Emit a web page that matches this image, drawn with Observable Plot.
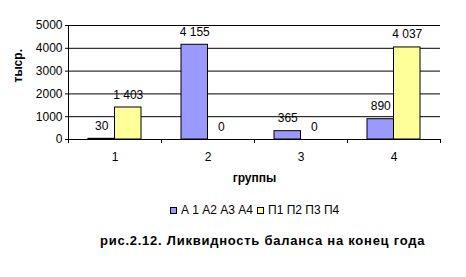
<!DOCTYPE html>
<html>
<head>
<meta charset="utf-8">
<script src="https://cdn.jsdelivr.net/npm/d3@7"></script>
<script src="https://cdn.jsdelivr.net/npm/@observablehq/plot@0.6"></script>
<style>
  html, body { margin: 0; padding: 0; background: #fff; }
  body { width: 466px; height: 277px; position: relative; font-family: "Liberation Sans", Arial, sans-serif; }
  #legend { position: absolute; top: 203px; left: 0; width: 466px; font-size: 12px; color: #000; }
  #legend .item { position: absolute; top: 0; white-space: nowrap; display: flex; align-items: center; }
  #legend .sw { width: 5px; height: 5px; border: 1px solid #000; margin-right: 4px; }
  #caption { position: absolute; top: 233px; left: 100px; font-size: 13px; font-weight: bold; white-space: nowrap; letter-spacing: 0.75px; }
</style>
</head>
<body>
<div id="chart"></div>
<div id="legend"></div>
<div id="caption"></div>
<script>
const groups = [1, 2, 3, 4];
const aValues = [30, 4155, 365, 890];
const pValues = [1403, 0, 0, 4037];
const seriesNames = ["А 1 А2 А3 А4", "П1 П2 П3 П4"];
const seriesColors = ["#9999FF", "#FFFF99"];
const yTicks = [0, 1000, 2000, 3000, 4000, 5000];
const xTitle = "группы";
const yTitle = "тыср.";
const captionText = "рис.2.12. Ликвидность баланса на конец года";

const rows = [];
groups.forEach((g, i) => {
  rows.push({g, s: 0, v: aValues[i]});
  rows.push({g, s: 1, v: pValues[i]});
});
const bw = 0.285;
const ru = d3.formatLocale({decimal: ",", thousands: "\u00a0", grouping: [3]});
const fmt = ru.format(",d");

const boundaries = [0.5, ...groups.map(g => g + 0.5)];

const chart = Plot.plot({
  width: 466,
  height: 192,
  marginTop: 25,
  marginBottom: 53,
  marginLeft: 68,
  marginRight: 26,
  style: {fontFamily: "'Liberation Sans', Arial, sans-serif", fontSize: "11px", color: "#000", background: "#fff"},
  x: {domain: [0.5, 4.5], label: null},
  y: {domain: [0, 5000], label: null},
  marks: [
    Plot.gridY(yTicks, {stroke: "#000", strokeOpacity: 1}),
    Plot.ruleX([0.5], {stroke: "#000"}),
    Plot.rectY(rows.filter(d => d.v > 0), {
      x1: d => d.s === 0 ? d.g - bw : d.g,
      x2: d => d.s === 0 ? d.g : d.g + bw,
      y1: 0,
      y2: "v",
      fill: d => seriesColors[d.s],
      stroke: "#000",
      strokeWidth: 1
    }),
    Plot.text(rows, {
      x: d => d.s === 0 ? d.g - bw / 2 : d.g + bw / 2,
      y: "v",
      text: d => fmt(d.v),
      lineAnchor: "bottom",
      dy: -9,
      fontSize: 12,
      fill: "#000"
    }),
    Plot.axisY({ticks: yTicks, tickSize: 3, tickPadding: 3, tickFormat: d => String(d), fontSize: 12, label: null}),
    Plot.axisX({ticks: boundaries, tickSize: 4, tickFormat: () => "", label: null}),
    Plot.axisX({ticks: groups, tickSize: 0, tickPadding: 13, tickFormat: d => String(d), fontSize: 12, label: null}),
    Plot.text([xTitle], {frameAnchor: "bottom", dy: 42, fontWeight: "bold", fontSize: 12, fill: "#000"}),
    Plot.text([yTitle], {frameAnchor: "left", dx: -50, rotate: -90, fontWeight: "bold", fontSize: 12, fill: "#000"})
  ]
});
document.getElementById("chart").appendChild(chart);

const legend = document.getElementById("legend");
const legendLeft = [170, 257];
seriesNames.forEach((name, i) => {
  const item = document.createElement("div");
  item.className = "item";
  item.style.left = legendLeft[i] + "px";
  const sw = document.createElement("span");
  sw.className = "sw";
  sw.style.background = seriesColors[i];
  const t = document.createElement("span");
  t.textContent = name;
  item.appendChild(sw);
  item.appendChild(t);
  legend.appendChild(item);
});
document.getElementById("caption").textContent = captionText;
</script>
</body>
</html>
